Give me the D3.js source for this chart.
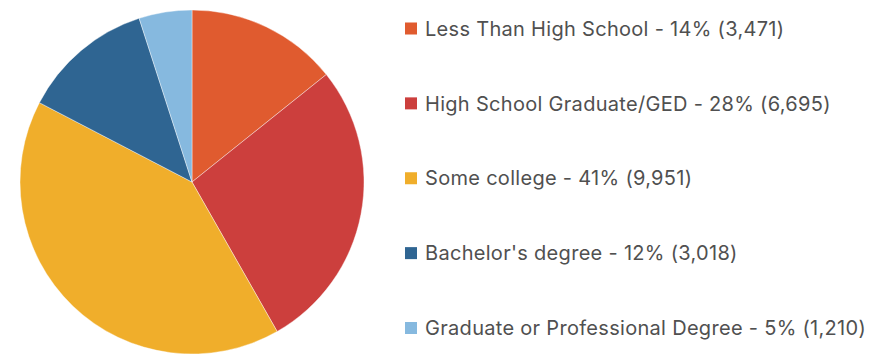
<!DOCTYPE html>
<html>
<head>
<meta charset="utf-8">
<script src="https://cdn.jsdelivr.net/npm/d3@7"></script>
<style>
  body { margin: 0; background: #fff; }
  svg text { font-family: Inter, "Noto Sans", sans-serif; fill: #505050; }
</style>
</head>
<body>
<div class="chart"></div>
<script>
const categories = ['Less Than High School', 'High School Graduate/GED', 'Some college', "Bachelor's degree", 'Graduate or Professional Degree'];
const counts = [3471, 6695, 9951, 3018, 1210];
const percents = [14, 28, 41, 12, 5];
const colors = ['#e05b2f', '#cc3f3d', '#f0ae2b', '#2f6592', '#86b9df'];

const width = 878;
const height = 355;

const svg = d3.select('.chart').append('svg')
    .attr('width', width)
    .attr('height', height);

const data = categories.map((c, i) => ({ name: c, value: counts[i], pct: percents[i], color: colors[i] }));

const pie = d3.pie().sort(null).value(d => d.value);
const arc = d3.arc().innerRadius(0).outerRadius(172);

const g = svg.append('g')
    .attr('transform', 'translate(192, 182)');

g.selectAll('path')
    .data(pie(data))
  .enter().append('path')
    .attr('d', arc)
    .attr('fill', d => d.data.color)
    .attr('stroke', '#fff')
    .attr('stroke-opacity', 0.5)
    .attr('stroke-width', 0.8);

// legend
const y = d3.scalePoint().domain(categories).range([28.5, 328]);
const fmt = d3.format(',');

const legend = svg.selectAll('.legend')
    .data(data)
  .enter().append('g')
    .attr('class', 'legend')
    .attr('transform', d => `translate(405, ${y(d.name)})`);

legend.append('rect')
    .attr('x', 0)
    .attr('y', -6)
    .attr('width', 12)
    .attr('height', 12)
    .attr('fill', d => d.color);

legend.append('text')
    .attr('x', 20)
    .attr('dy', '0.36em')
    .style('font-size', '20px')
    .style('letter-spacing', '0.3px')
    .text(d => `${d.name} - ${d.pct}% (${fmt(d.value)})`);
</script>
</body>
</html>
